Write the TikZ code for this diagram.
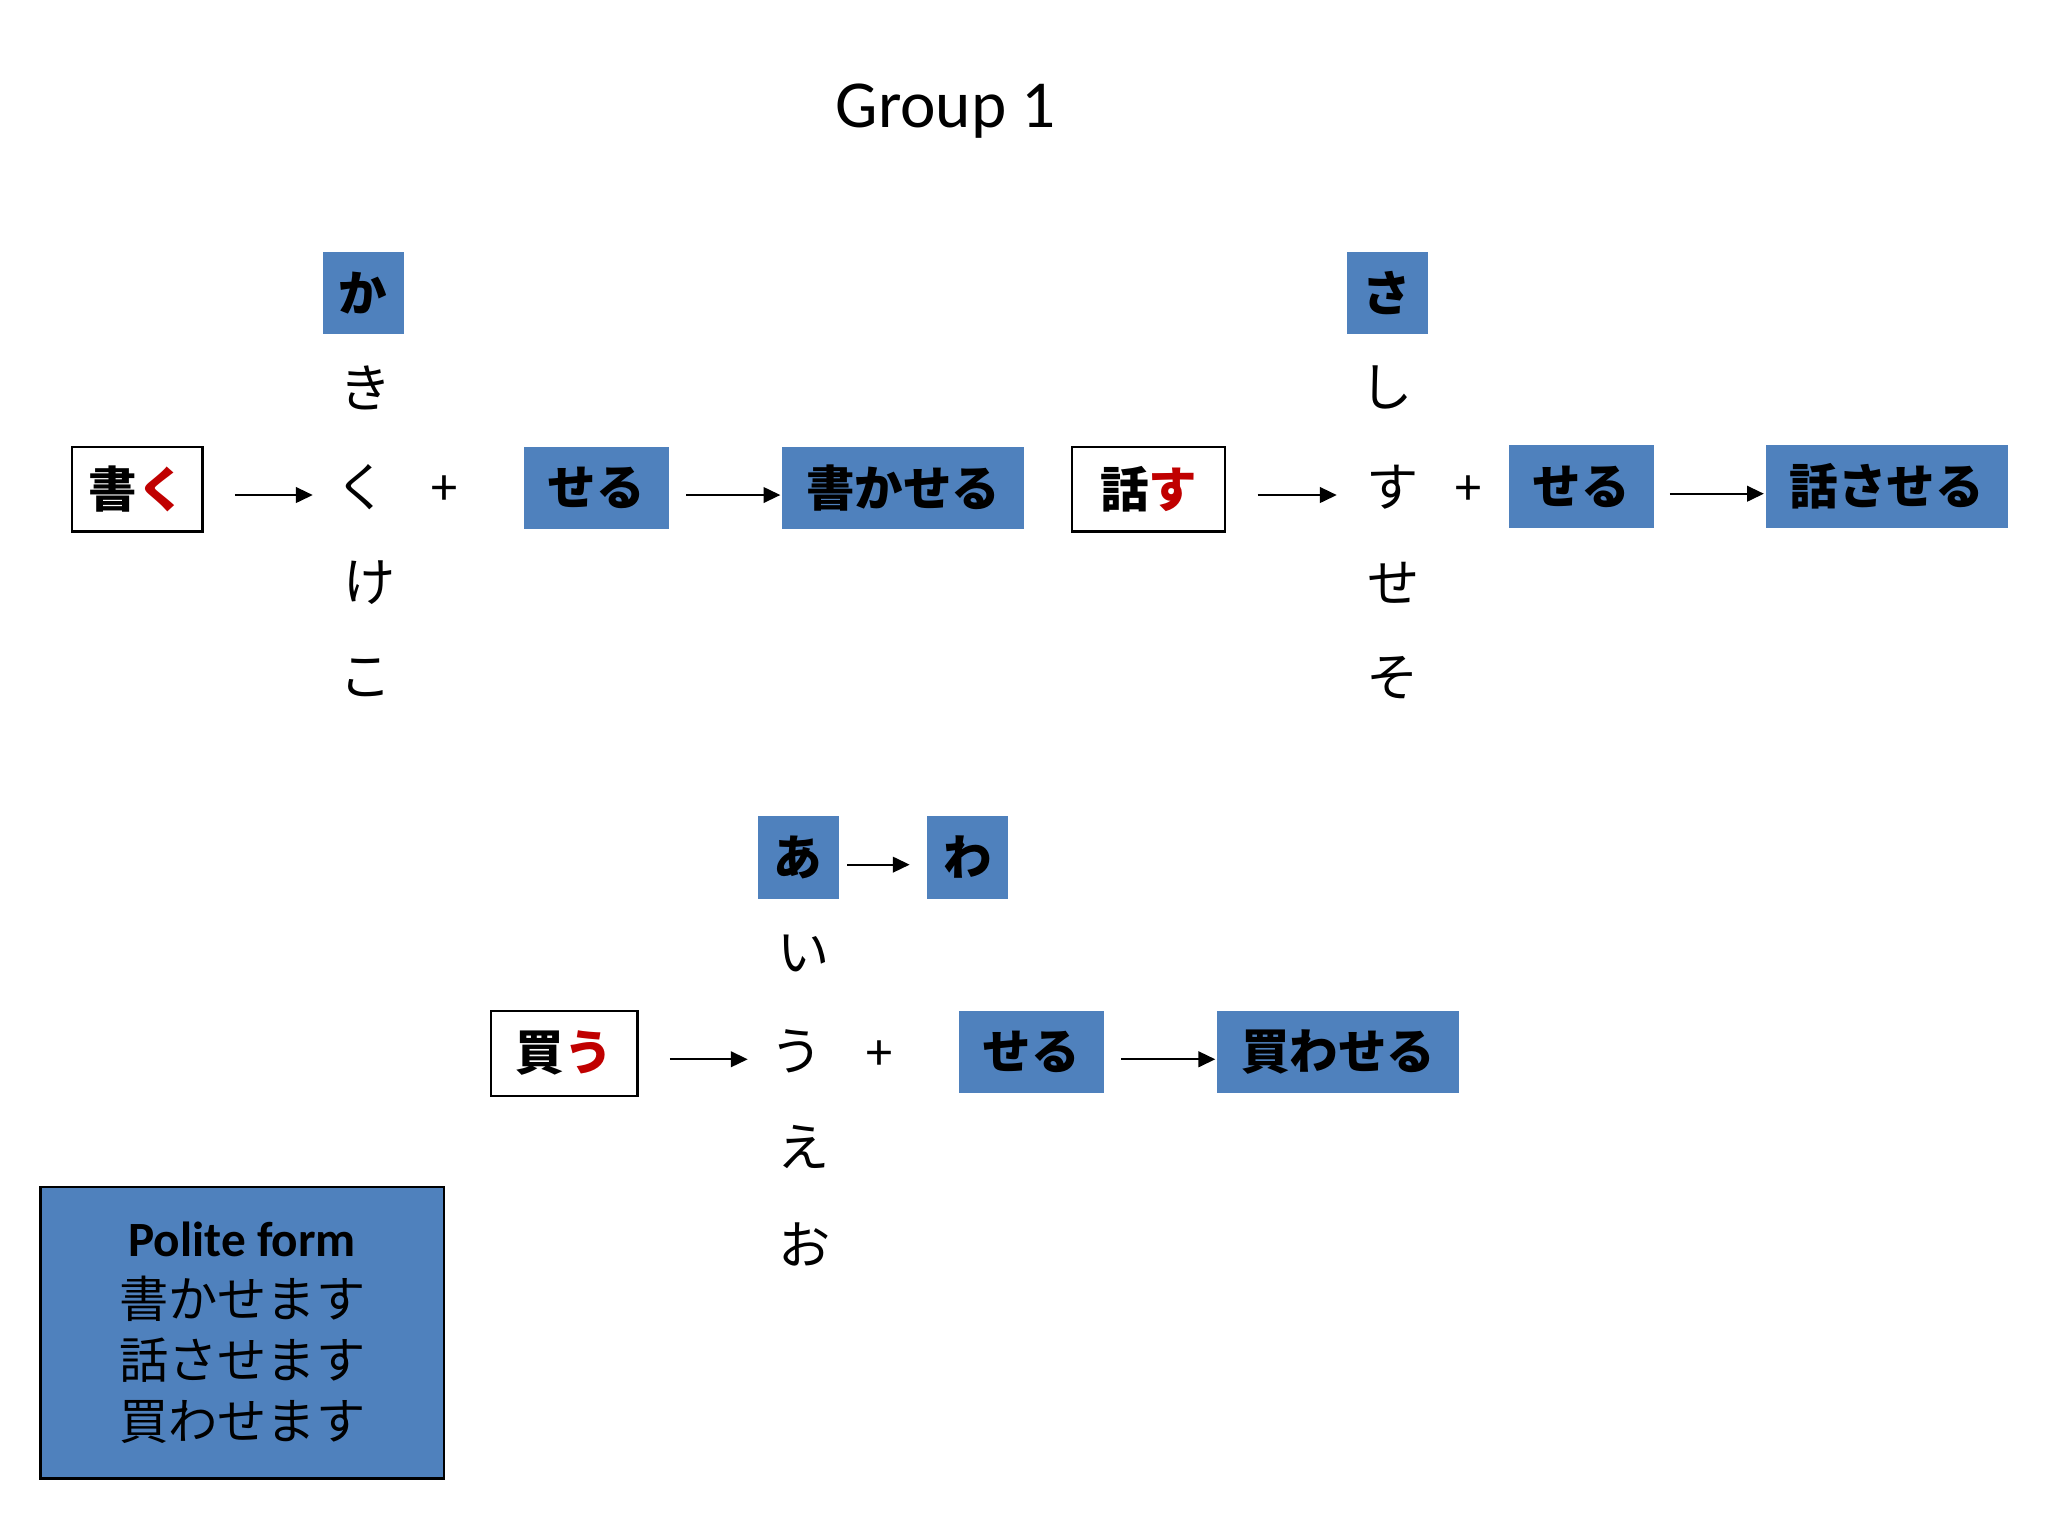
\documentclass[tikz,border=0pt]{standalone}
\usepackage{fontspec}
\setmainfont{Carlito}
\newfontfamily\jp{Noto Sans CJK JP}
\usetikzlibrary{arrows.meta}
\definecolor{boxblue}{HTML}{4F81BD}
\definecolor{jpred}{HTML}{C00000}
\begin{document}
\begin{tikzpicture}[x=0.35pt,y=-0.35pt,
  bluebox/.style={fill=boxblue,inner sep=0pt,minimum height=22.05pt,font=\jp\bfseries\fontsize{13}{15}\selectfont},
  whitebox/.style={draw=black,line width=0.6pt,fill=white,inner sep=0pt,minimum height=22.75pt,font=\jp\bfseries\fontsize{13}{15}\selectfont},
  kana/.style={inner sep=0pt,minimum width=14pt,minimum height=14pt,font=\jp\fontsize{14}{16}\selectfont},
  plus/.style={inner sep=0pt,font=\fontsize{14}{16}\selectfont},
  arr/.style={-{Triangle[length=4.5pt,width=4.2pt]},line width=0.5pt}]
\useasboundingbox[fill=white] (0,0) rectangle (1568,1176);

\node[font=\fontsize{18}{22}\selectfont] (title) at (724,85) {Group 1};

% group 1: kaku
\node[whitebox,minimum width=35pt] (kaku) at (105,374.5) {書\textcolor{jpred}{く}};
\node[bluebox,minimum width=21.7pt] (ka) at (278,224.5) {か};
\node[kana] (ki) at (280,297) {き};
\node[kana] (ku) at (277,373) {く};
\node[kana] (ke) at (283,446) {け};
\node[kana] (ko) at (280,519) {こ};
\node[plus] (plus1) at (340,375) {+};
\node[bluebox,minimum width=38.85pt] (seru1) at (456.5,373.5) {せる};
\node[bluebox,minimum width=64.75pt] (kakaseru) at (691.5,373.5) {書かせる};

% hanasu
\node[whitebox,minimum width=40.95pt] (hanasu) at (879.5,374.5) {話\textcolor{jpred}{す}};
\node[bluebox,minimum width=21.7pt] (sa) at (1062,224.5) {さ};
\node[kana] (shi) at (1062,297) {し};
\node[kana] (su) at (1066,373) {す};
\node[kana] (se) at (1067,446) {せ};
\node[kana] (so) at (1066,519) {そ};
\node[plus] (plus2) at (1124,375) {+};
\node[bluebox,minimum width=38.85pt] (seru2) at (1210.5,372.5) {せる};
\node[bluebox,minimum width=64.75pt] (hanasaseru) at (1444.5,372.5) {話させる};

% kau
\node[whitebox,minimum width=39.2pt] (kau) at (432,806.5) {買\textcolor{jpred}{う}};
\node[bluebox,minimum width=21.7pt] (a) at (611,656.5) {あ};
\node[bluebox,minimum width=21.7pt] (wa) at (741,656.5) {わ};
\node[kana] (i) at (615,730) {い};
\node[kana] (u) at (610,805) {う};
\node[kana] (e) at (615,878) {え};
\node[kana] (o) at (616,953) {お};
\node[plus] (plus3) at (673,808) {+};
\node[bluebox,minimum width=38.85pt] (seru3) at (789.5,805.5) {せる};
\node[bluebox,minimum width=64.75pt] (kawaseru) at (1024.5,805.5) {買わせる};

% polite form
\node[fill=boxblue,draw=black,line width=0.6pt,inner sep=0pt,minimum width=108.15pt,minimum height=78.05pt,align=center,font=\fontsize{13.2}{16.3}\selectfont] (polite) at (185.5,1020.5)
  {\textbf{Polite form}\\{\jp 書かせます}\\{\jp 話させます}\\{\jp 買わせます}};

% arrows
\draw[arr] ([xshift=8.4pt,yshift=-1.575pt]kaku.east) -- ([xshift=-5.95pt,yshift=-2.1pt]ku.west);
\draw[arr] ([xshift=4.55pt,yshift=-1.925pt]seru1.east) -- ([xshift=-0.35pt,yshift=-1.925pt]kakaseru.west);
\draw[arr] ([xshift=8.4pt,yshift=-1.575pt]hanasu.east) -- ([xshift=-7.7pt,yshift=-2.1pt]su.west);
\draw[arr] ([xshift=4.2pt,yshift=-1.925pt]seru2.east) -- ([xshift=-0.35pt,yshift=-1.925pt]hanasaseru.west);
\draw[arr] ([xshift=2.1pt,yshift=-1.925pt]a.east) -- ([xshift=-4.55pt,yshift=-1.925pt]wa.west);
\draw[arr] ([xshift=8.4pt,yshift=-1.575pt]kau.east) -- ([xshift=-5.95pt,yshift=-2.1pt]u.west);
\draw[arr] ([xshift=4.55pt,yshift=-1.925pt]seru3.east) -- ([xshift=-0.35pt,yshift=-1.925pt]kawaseru.west);
\end{tikzpicture}
\end{document}
